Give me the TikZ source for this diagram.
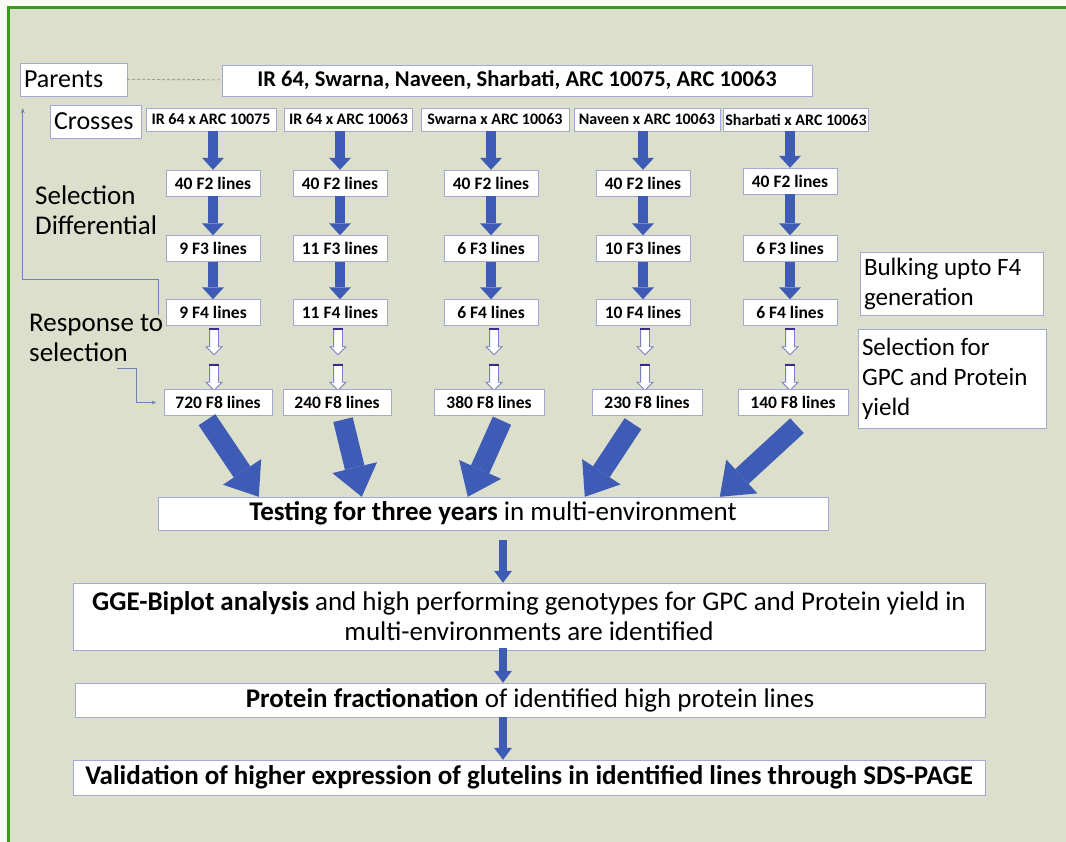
\documentclass[tikz,border=0pt]{standalone}
\usepackage{fontspec}
\setmainfont{Carlito}
\usetikzlibrary{arrows.meta,shapes.arrows,positioning}

\definecolor{outerbg}{HTML}{F8FBF0}
\definecolor{innerbg}{HTML}{DCDFCB}
\definecolor{framegreen}{HTML}{3A9A1C}
\definecolor{boxline}{HTML}{A3A9D6}
\definecolor{arrowblue}{HTML}{3E5CB6}
\definecolor{hollowline}{HTML}{7C7FC6}
\definecolor{capline}{HTML}{3B2A86}
\definecolor{thinblue}{HTML}{7480B4}

\begin{document}
\begin{tikzpicture}[x=1pt,y=-1pt,
  label box/.style={draw=boxline,fill=white,font=\fontsize{25}{30}\selectfont,inner sep=4pt,align=flush left},
  side text/.style={font=\fontsize{27}{30}\selectfont,inner sep=2pt,align=flush left,anchor=west},
  cross box/.style={draw=boxline,fill=white,font=\bfseries\fontsize{16}{18}\selectfont,minimum height=23pt,inner sep=2pt},
  line box/.style={draw=boxline,fill=white,font=\bfseries\fontsize{17.5}{20}\selectfont,minimum height=26pt,minimum width=94pt,inner sep=2pt},
  step box/.style={draw=boxline,fill=white,font=\fontsize{27}{30}\selectfont,inner sep=3pt,align=center},
  fat arrow/.style={color=arrowblue,line width=10pt,-{Triangle[width=22pt,length=12pt,line width=0pt]}},
  wide arrow/.style={color=arrowblue,line width=20pt,-{Triangle[width=46pt,length=30pt,line width=0pt]}},
  slim arrow/.style={color=arrowblue,line width=8pt,-{Triangle[width=18pt,length=12pt,line width=0pt]}},
  hollow arrow/.style={single arrow,draw=hollowline,fill=white,line width=0.8pt,shape border rotate=270,
    minimum width=15pt,single arrow head extend=3.5pt,minimum height=26pt,inner sep=4pt},
  thin line/.style={draw=thinblue,line width=0.7pt}]

  % frame
  \useasboundingbox (0,0) rectangle (1066,842);
  \fill[outerbg] (0,0) rectangle (1066,842);
  \fill[innerbg] (8,8) rectangle (1075,850);
  \draw[framegreen,line width=3pt] (8,850) -- (8,8) -- (1075,8);

  % parents and crosses
  \node[label box,font=\fontsize{26}{30}\selectfont,text width=99pt,minimum height=33pt] (par) at (73.5,79.5) {Parents};
  \node[draw=boxline,fill=white,font=\bfseries\fontsize{22.5}{26}\selectfont,minimum width=590pt,minimum height=31pt] (parlist) at (517,80.5)
    {IR 64, Swarna, Naveen, Sharbati, ARC 10075, ARC 10063};
  \node[label box,font=\fontsize{26}{30}\selectfont,text width=83pt,minimum height=33pt] (crs) at (95.5,121.5) {Crosses};

  \node[cross box,minimum width=130pt] (cross1) at (211,119.5) {IR 64 x ARC 10075};
  \node[cross box,minimum width=128pt] (cross2) at (348.5,119.5) {IR 64 x ARC 10063};
  \node[cross box,minimum width=148pt] (cross3) at (495,119.5) {Swarna x ARC 10063};
  \node[cross box,minimum width=146pt] (cross4) at (647,119.5) {Naveen x ARC 10063};
  \node[cross box,minimum width=144pt] (cross5) at (796,119.5) {Sharbati x ARC 10063};

  % generations
  \node[line box] (ftwo1) at (213,183) {40 F2 lines};
  \node[line box] (ftwo2) at (340,183) {40 F2 lines};
  \node[line box] (ftwo3) at (491,183) {40 F2 lines};
  \node[line box] (ftwo4) at (643,183) {40 F2 lines};
  \node[line box] (ftwo5) at (790,181) {40 F2 lines};

  \node[line box] (fthree1) at (213,248.5) {9 F3 lines};
  \node[line box] (fthree2) at (340,248.5) {11 F3 lines};
  \node[line box] (fthree3) at (491,248.5) {6 F3 lines};
  \node[line box] (fthree4) at (643,248.5) {10 F3 lines};
  \node[line box] (fthree5) at (790,248.5) {6 F3 lines};

  \node[line box] (ffour1) at (213,312.5) {9 F4 lines};
  \node[line box] (ffour2) at (340,312.5) {11 F4 lines};
  \node[line box] (ffour3) at (491,312.5) {6 F4 lines};
  \node[line box] (ffour4) at (643,312.5) {10 F4 lines};
  \node[line box] (ffour5) at (790,312.5) {6 F4 lines};

  \node[hollow arrow] (hup1) at (214,339.5) {};
  \node[hollow arrow] (hup2) at (338,339.5) {};
  \node[hollow arrow] (hup3) at (494,339.5) {};
  \node[hollow arrow] (hup4) at (645,339.5) {};
  \node[hollow arrow] (hup5) at (790,339.5) {};
  \node[hollow arrow] (hlo1) at (214,375) {};
  \node[hollow arrow] (hlo2) at (338,375) {};
  \node[hollow arrow] (hlo3) at (494,375) {};
  \node[hollow arrow] (hlo4) at (645,375) {};
  \node[hollow arrow] (hlo5) at (790,375) {};

  \node[line box,minimum width=108pt] (feight1) at (218,402.5) {720 F8 lines};
  \node[line box,minimum width=108pt] (feight2) at (337,402.5) {240 F8 lines};
  \node[line box,minimum width=110pt] (feight3) at (489,402.5) {380 F8 lines};
  \node[line box,minimum width=110pt] (feight4) at (647,402.5) {230 F8 lines};
  \node[line box,minimum width=110pt] (feight5) at (793,402.5) {140 F8 lines};

  % side notes
  \node[side text] (sel) at (33,210) {Selection\\Differential};
  \node[side text] (resp) at (27,338) {Response to\\selection};
  \node[label box,text width=175pt,minimum height=63pt] (bulk) at (951.5,283.5) {Bulking upto F4\\generation};
  \node[label box,text width=180pt,minimum height=99pt] (gpc) at (952,378.5) {Selection for\\GPC and Protein\\yield};

  % evaluation steps
  \node[step box,minimum width=670pt,minimum height=33pt] (test) at (493,513.5)
    {\textbf{Testing for three years} in multi-environment};
  \node[step box,minimum width=912pt,minimum height=67pt] (gge) at (529,616.5)
    {\textbf{GGE-Biplot analysis} and high performing genotypes for GPC and Protein yield in\\multi-environments are identified};
  \node[step box,minimum width=910pt,minimum height=34pt] (frac) at (530,700)
    {\textbf{Protein fractionation} of identified high protein lines};
  \node[step box,minimum width=912pt,minimum height=35pt,font=\bfseries\fontsize{27}{30}\selectfont] (valid) at (529,777.5)
    {Validation of higher expression of glutelins in identified lines through SDS-PAGE};

  % hollow arrow caps
  \foreach \h in {hup1,hup2,hup3,hup4,hup5,hlo1,hlo2,hlo3,hlo4,hlo5}
    \draw[capline,line width=2.2pt] ([yshift=-1pt]\h.before tail) -- ([yshift=-1pt]\h.after tail);

  % arrows down the columns
  \path[fat arrow]
   (ftwo1 |- cross1.south) edge (ftwo1) (ftwo2 |- cross2.south) edge (ftwo2)
   (ftwo3 |- cross3.south) edge (ftwo3) (ftwo4 |- cross4.south) edge (ftwo4)
   (ftwo5 |- cross5.south) edge (ftwo5)
   (ftwo1) edge (fthree1) (ftwo2) edge (fthree2) (ftwo3) edge (fthree3)
   (ftwo4) edge (fthree4) (ftwo5) edge (fthree5)
   (fthree1) edge (ffour1) (fthree2) edge (ffour2) (fthree3) edge (ffour3)
   (fthree4) edge (ffour4) (fthree5) edge (ffour5);

  \path[wide arrow]
   ([xshift=-11pt,yshift=-4pt]feight1.south) edge ([xshift=101pt]test.north west)
   ([xshift=6pt,yshift=-4pt]feight2.south) edge ([xshift=204pt]test.north west)
   ([xshift=13pt,yshift=-5pt]feight3.south) edge ([xshift=310pt]test.north west)
   ([xshift=-14pt,yshift=-8pt]feight4.south) edge ([xshift=427pt]test.north west)
   ([xshift=4pt,yshift=-10pt]feight5.south) edge ([xshift=562pt]test.north west);

  \path[slim arrow]
   ([yshift=-10pt]test.south -| 503,0) edge (gge.north -| 503,0)
   ([yshift=2pt]gge.south -| 503,0) edge (frac.north -| 503,0)
   (frac.south -| 503,0) edge (valid.north -| 503,0);

  % thin links
  \draw[draw=gray,line width=0.6pt,densely dashed] (par) -- (parlist);
  \draw[thin line,-{Stealth[length=5pt,width=4pt]}] (158,315) -- ++(0,-36) -| ([xshift=3pt,yshift=-12pt]par.south west);
  \draw[thin line,-{Stealth[length=4pt,width=4pt]}] (117,368) -- (136,368) |- ([xshift=-8pt]feight1.west);
\end{tikzpicture}
\end{document}
